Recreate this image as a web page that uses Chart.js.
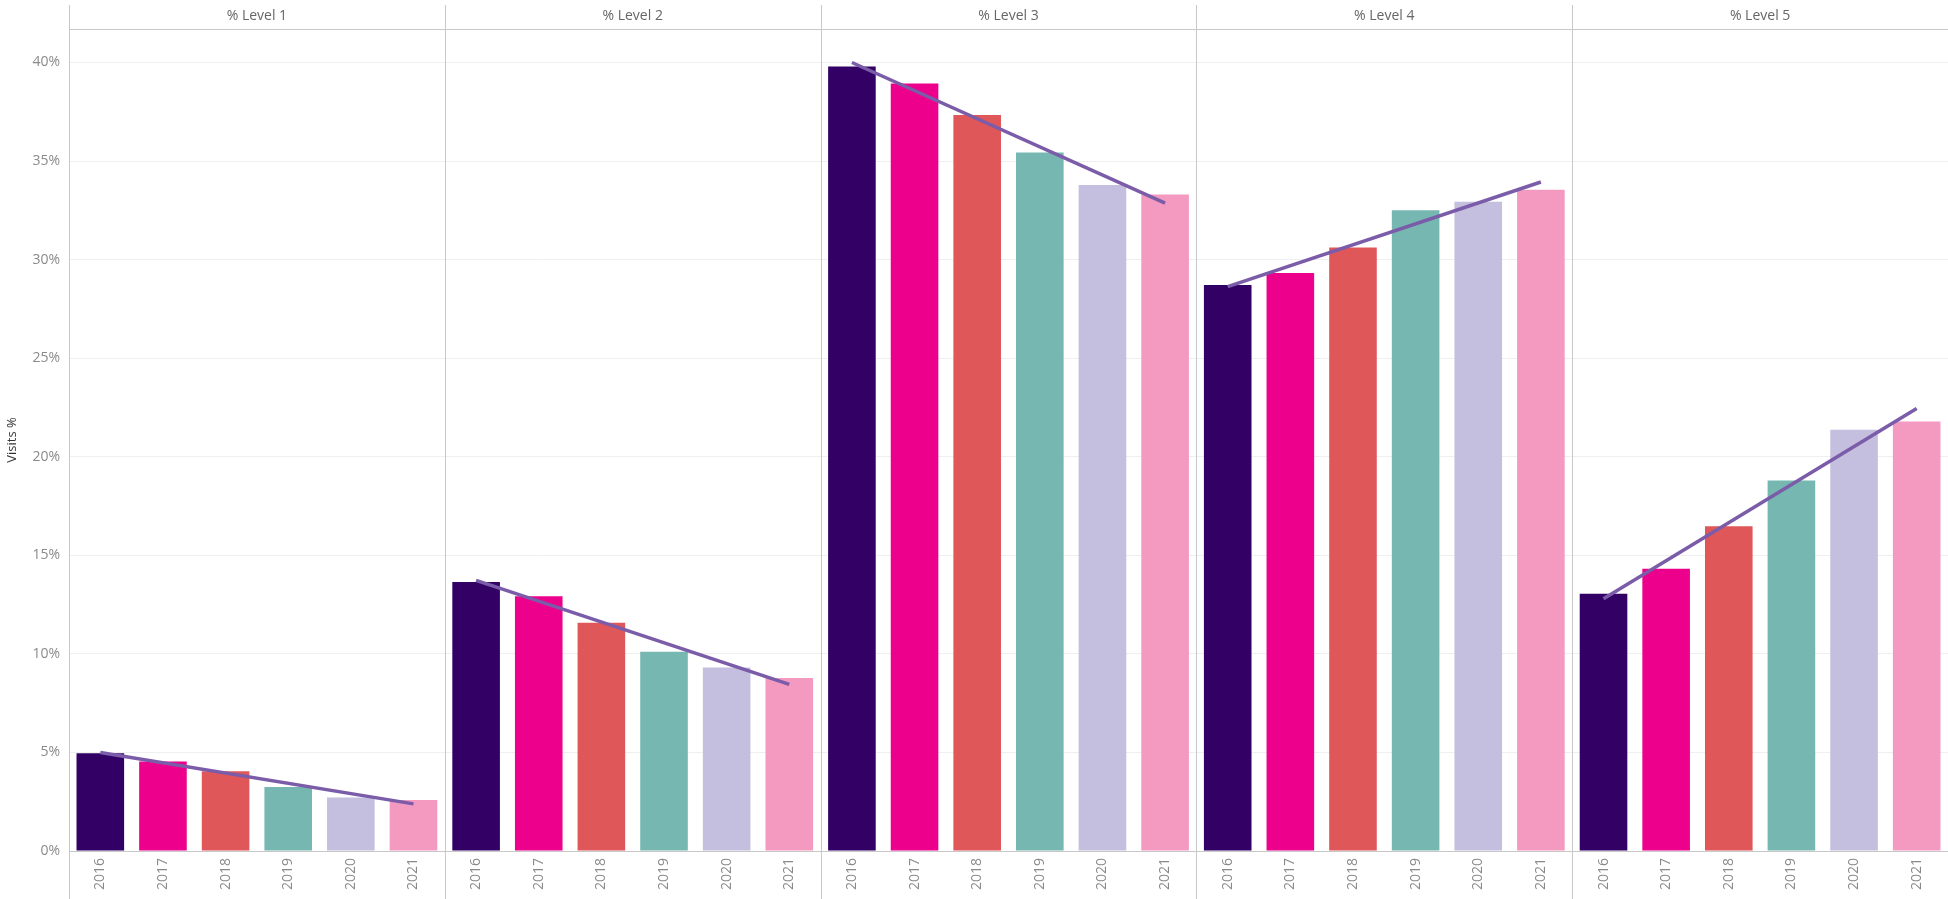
<!DOCTYPE html>
<html>
<head>
<meta charset="utf-8">
<script src="https://cdn.jsdelivr.net/npm/chart.js@4.4.1/dist/chart.umd.min.js"></script>
<style>
  html, body { margin: 0; padding: 0; background: #fff; }
  #wrap { width: 1948px; height: 899px; position: relative; }
</style>
</head>
<body>
<div id="wrap"><canvas id="chart"></canvas></div>
<script>
// categories
const years = ['2016', '2017', '2018', '2019', '2020', '2021'];
const levels = ['% Level 1', '% Level 2', '% Level 3', '% Level 4', '% Level 5'];
// visits % per year, one array per level panel
const level1 = [4.96, 4.54, 4.05, 3.25, 2.71, 2.59];
const level2 = [13.65, 12.92, 11.58, 10.11, 9.31, 8.77];
const level3 = [39.80, 38.94, 37.34, 35.43, 33.79, 33.30];
const level4 = [28.71, 29.32, 30.61, 32.50, 32.94, 33.55];
const level5 = [13.05, 14.32, 16.47, 18.79, 21.37, 21.79];
// trend line ends (2016 and 2021) per panel
const trendStart = [5.00, 13.73, 40.00, 28.63, 12.80];
const trendEnd = [2.39, 8.45, 32.87, 33.94, 22.45];
const yTicks = [0, 5, 10, 15, 20, 25, 30, 35, 40];

const yearColors = ['#330066', '#ec008c', '#e05759', '#76b7b2', '#c4bedf', '#f49ac1'];
const trendColor = '#7a5ca9';

const panels = [level1, level2, level3, level4, level5];
const labels = panels.flatMap(() => years);
const barData = panels.flat();
const barColors = panels.flatMap(() => yearColors);

const trendSets = panels.map((p, i) => {
  const d = labels.map(() => null);
  d[i * 6] = trendStart[i];
  d[i * 6 + 5] = trendEnd[i];
  return {
    type: 'line',
    data: d,
    borderColor: trendColor,
    borderWidth: 3.5,
    pointRadius: 0,
    spanGaps: true,
    fill: false,
    order: 0
  };
});

// full-height panel dividers, like the trellis frame
const panelLines = {
  id: 'panelLines',
  beforeDatasetsDraw(chart) {
    const { ctx, chartArea } = chart;
    const w = (chartArea.right - chartArea.left) / levels.length;
    ctx.save();
    ctx.strokeStyle = '#c8c8c8';
    ctx.lineWidth = 1;
    for (let i = 0; i < levels.length; i++) {
      const x = Math.round(chartArea.left + i * w) + 0.5;
      ctx.beginPath();
      ctx.moveTo(x, 5);
      ctx.lineTo(x, chart.height);
      ctx.stroke();
    }
    ctx.restore();
  }
};

const tickFont = { family: '"Open Sans", sans-serif', size: 14 };

new Chart(document.getElementById('chart'), {
  type: 'bar',
  data: {
    labels,
    datasets: [
      {
        data: barData,
        backgroundColor: barColors,
        categoryPercentage: 0.76,
        barPercentage: 1,
        order: 1
      },
      ...trendSets
    ]
  },
  options: {
    responsive: true,
    maintainAspectRatio: false,
    animation: false,
    layout: { padding: 0 },
    plugins: { legend: { display: false }, tooltip: { enabled: false } },
    scales: {
      x: {
        offset: true,
        grid: { display: false, drawTicks: false },
        border: { color: '#c8c8c8' },
        ticks: {
          autoSkip: false,
          minRotation: 90,
          maxRotation: 90,
          padding: 7,
          color: '#8a8a8a',
          font: tickFont
        },
        afterFit(s) { s.height = 48; }
      },
      top: {
        type: 'category',
        position: 'top',
        labels: levels,
        offset: true,
        grid: { display: false, drawTicks: false },
        border: { color: '#c8c8c8' },
        ticks: { padding: 5, color: '#666', font: tickFont },
        afterFit(s) { s.height = 29; }
      },
      y: {
        min: 0,
        max: 41.7,
        grid: { color: '#efefef', drawTicks: false },
        border: { display: false },
        title: {
          display: true,
          text: 'Visits %',
          color: '#333',
          font: { family: '"Open Sans", sans-serif', size: 13 }
        },
        afterBuildTicks(s) { s.ticks = yTicks.map(v => ({ value: v })); },
        ticks: {
          padding: 9,
          color: '#8a8a8a',
          font: tickFont,
          callback: v => v + '%'
        },
        afterFit(s) { s.width = 69; }
      }
    }
  },
  plugins: [panelLines]
});
</script>
</body>
</html>
